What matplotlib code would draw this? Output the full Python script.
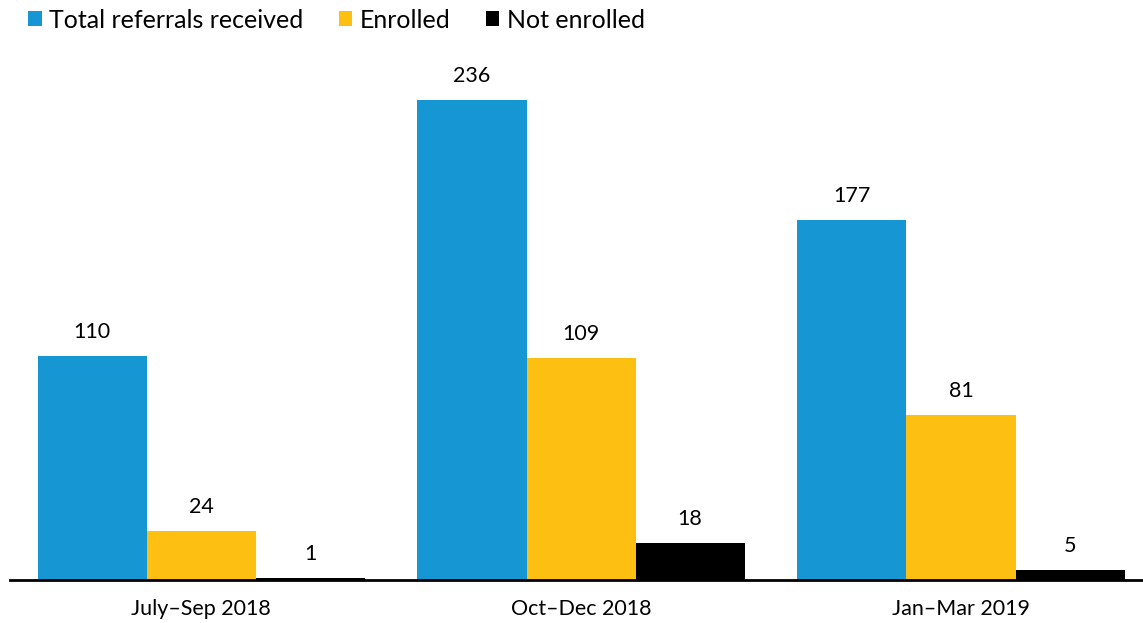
import matplotlib.pyplot as plt
from matplotlib.patches import Patch
import numpy as np

plt.rcParams['font.family'] = ['Lato', 'DejaVu Sans']

# quarterly referral counts
QUARTERS = ['July\u2013Sep 2018', 'Oct\u2013Dec 2018', 'Jan\u2013Mar 2019']
TOTAL_REFERRALS = [110, 236, 177]
ENROLLED = [24, 109, 81]
NOT_ENROLLED = [1, 18, 5]

SERIES = {
    'Total referrals received': (TOTAL_REFERRALS, '#1696d2'),
    'Enrolled': (ENROLLED, '#fdbf11'),
    'Not enrolled': (NOT_ENROLLED, '#000000'),
}

fig = plt.figure(figsize=(11.43, 6.23), dpi=100)
ax = fig.add_axes([10 / 1143, 43 / 623, 1133 / 1143, 540 / 623])

x = np.arange(len(QUARTERS))
width = 0.287
offsets = [-width, 0, width]

handles = []
for (label, (values, color)), off in zip(SERIES.items(), offsets):
    bars = ax.bar(x + off, values, width=width, color=color, label=label)
    for b, v in zip(bars, values):
        ax.text(b.get_x() + b.get_width() / 2, v + 7, str(v),
                ha='center', va='bottom', fontsize=15.5)
    handles.append(Patch(facecolor=color, label=label))

ax.set_xlim(-0.503, 2.479)
ax.set_ylim(0, 265.5)
ax.set_xticks(x)
ax.set_xticklabels(QUARTERS, fontsize=15.5)
ax.tick_params(axis='x', length=0, pad=14)
ax.set_yticks([])
for side in ['top', 'right', 'left']:
    ax.spines[side].set_visible(False)
ax.spines['bottom'].set_linewidth(2)
ax.spines['bottom'].set_color('black')

fig.legend(handles=handles, loc='upper left', bbox_to_anchor=(0.005, 1.022),
           ncol=3, frameon=False, fontsize=18, handlelength=0.55,
           handleheight=0.55, handletextpad=0.3, columnspacing=1.4)

fig.savefig('out.png', dpi=100)
